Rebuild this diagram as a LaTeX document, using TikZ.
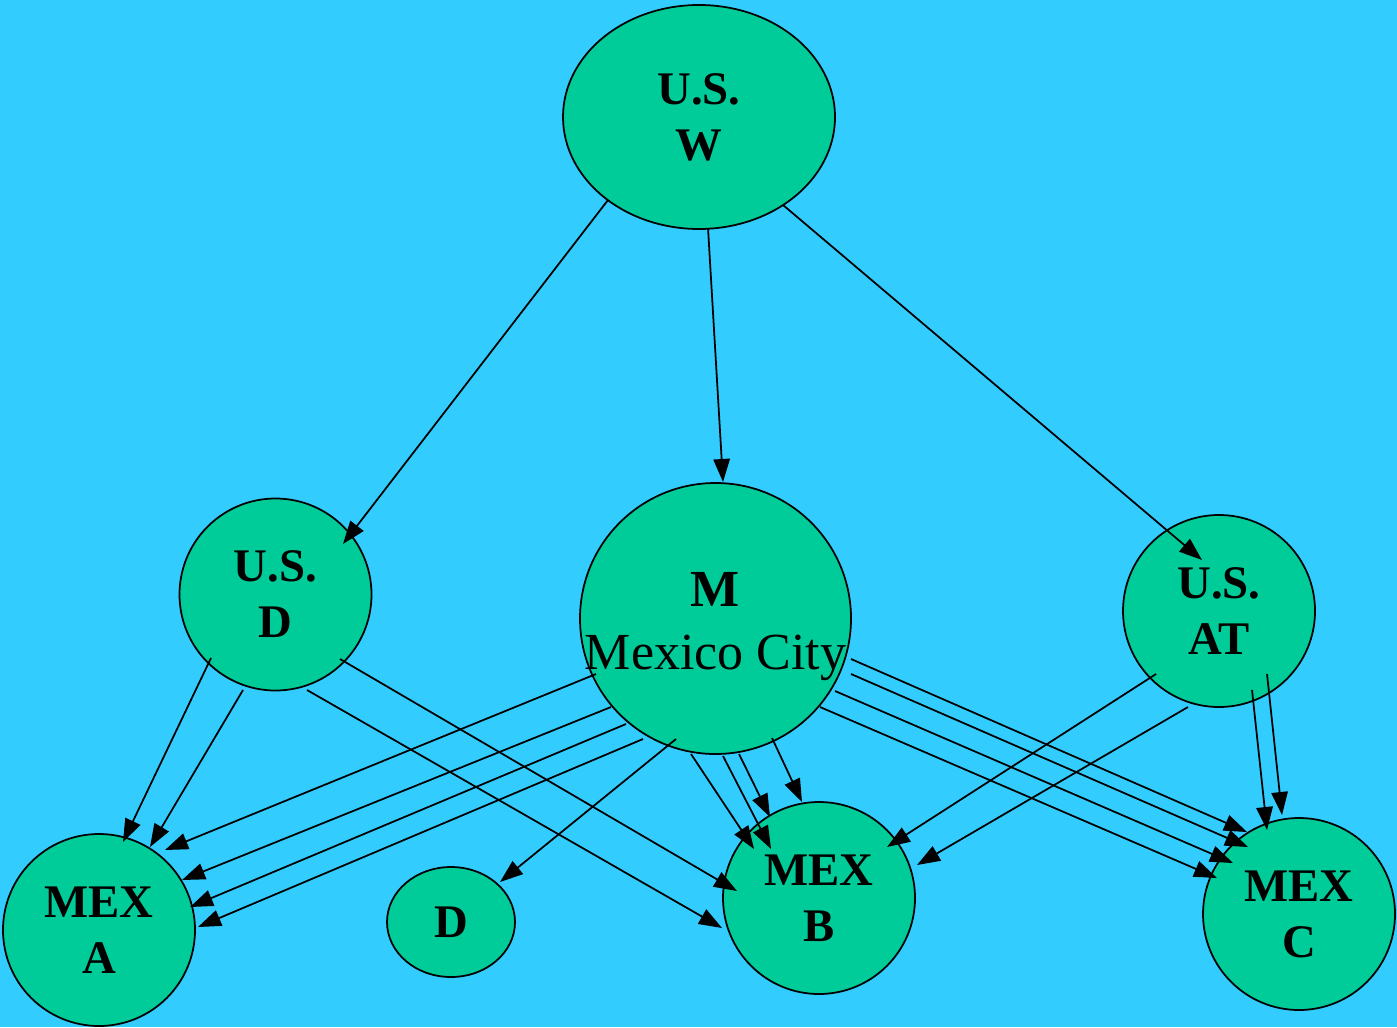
\documentclass[tikz,border=0pt]{standalone}
\usepackage{fontspec}
\setmainfont{Liberation Serif}
\usetikzlibrary{arrows.meta,shapes.geometric,calc}

\definecolor{skyback}{RGB}{51,204,255}
\definecolor{sitegreen}{RGB}{0,204,153}

\tikzset{
  site/.style={circle, draw, line width=0.5pt, fill=sitegreen, inner sep=0pt,
    minimum size=19.2mm, align=center,
    font=\fontsize{13.3}{15.9}\selectfont\bfseries},
  link/.style={line width=0.5pt, -{Triangle[length=2.3mm,width=1.65mm]}}
}

\begin{document}
\begin{tikzpicture}[x=0.1mm, y=-0.1mm]
  \fill[skyback] (0,0) rectangle (1397,1027);
  \useasboundingbox (0,0) rectangle (1397,1027);

  % the sites
  \node[site, ellipse, minimum width=27.2mm, minimum height=22.4mm] (USW) at (699,117) {U.S.\\W};
  \node[site] (USD) at (275.5,594.5) {U.S.\\D};
  \node[site, minimum size=27.1mm,
    label={[align=center, yshift=-0.8mm, font=\fontsize{14.8}{17.9}\selectfont]center:{\textbf{M}\\Mexico City}}]
    (M) at (715.5,618.5) {};
  \node[site] (USAT) at (1219,611) {U.S.\\AT};
  \node[site] (MEXA) at (99,930) {MEX\\A};
  \node[site, ellipse, minimum width=12.8mm, minimum height=11mm] (D) at (451,922) {D};
  \node[site] (MEXB) at (819,898) {MEX\\B};
  \node[site] (MEXC) at (1299,914) {MEX\\C};

  % from U.S. W
  \draw[link] ($(USW)+(-91,83)$) -- ($(USD)+(67.5,-50.5)$);
  \draw[link] ($(USW)+(9,111)$) -- ($(M)+(7.5,-136.5)$);
  \draw[link] ($(USW)+(84,88)$) -- ($(USAT)+(-17,-51)$);

  % from U.S. D
  \draw[link] ($(USD)+(-64.5,63.5)$) -- ($(MEXA)+(24,-88)$);
  \draw[link] ($(USD)+(-32.5,95.5)$) -- ($(MEXA)+(51,-83)$);
  \draw[link] ($(USD)+(31.5,95.5)$) -- ($(MEXB)+(-97,30)$);
  \draw[link] ($(USD)+(64.5,64.5)$) -- ($(MEXB)+(-82,-7)$);

  % from M
  \draw[link] ($(M)+(-119.5,55.5)$) -- ($(MEXA)+(66,-80)$);
  \draw[link] ($(M)+(-104.5,88.5)$) -- ($(MEXA)+(83,-50)$);
  \draw[link] ($(M)+(-89.5,105.5)$) -- ($(MEXA)+(91,-23)$);
  \draw[link] ($(M)+(-72.5,120.5)$) -- ($(MEXA)+(99,-3)$);
  \draw[link] ($(M)+(-39.5,120.5)$) -- ($(D)+(49,-40)$);
  \draw[link] ($(M)+(-24.5,135.5)$) -- ($(MEXB)+(-65,-49)$);
  \draw[link] ($(M)+(7.5,137.5)$) -- ($(MEXB)+(-48,-49)$);
  \draw[link] ($(M)+(23.5,135.5)$) -- ($(MEXB)+(-49,-81)$);
  \draw[link] ($(M)+(56.5,119.5)$) -- ($(MEXB)+(-17,-96)$);
  \draw[link] ($(M)+(135.5,40.5)$) -- ($(MEXC)+(-52,-82)$);
  \draw[link] ($(M)+(135.5,55.5)$) -- ($(MEXC)+(-51,-67)$);
  \draw[link] ($(M)+(119.5,72.5)$) -- ($(MEXC)+(-66,-51)$);
  \draw[link] ($(M)+(104.5,88.5)$) -- ($(MEXC)+(-82,-36)$);

  % from U.S. AT
  \draw[link] ($(USAT)+(-63,63)$) -- ($(MEXB)+(68,-51)$);
  \draw[link] ($(USAT)+(-31,96)$) -- ($(MEXB)+(98,-33)$);
  \draw[link] ($(USAT)+(33,79)$) -- ($(MEXC)+(-32,-84)$);
  \draw[link] ($(USAT)+(48,63)$) -- ($(MEXC)+(-17,-99)$);
\end{tikzpicture}
\end{document}
